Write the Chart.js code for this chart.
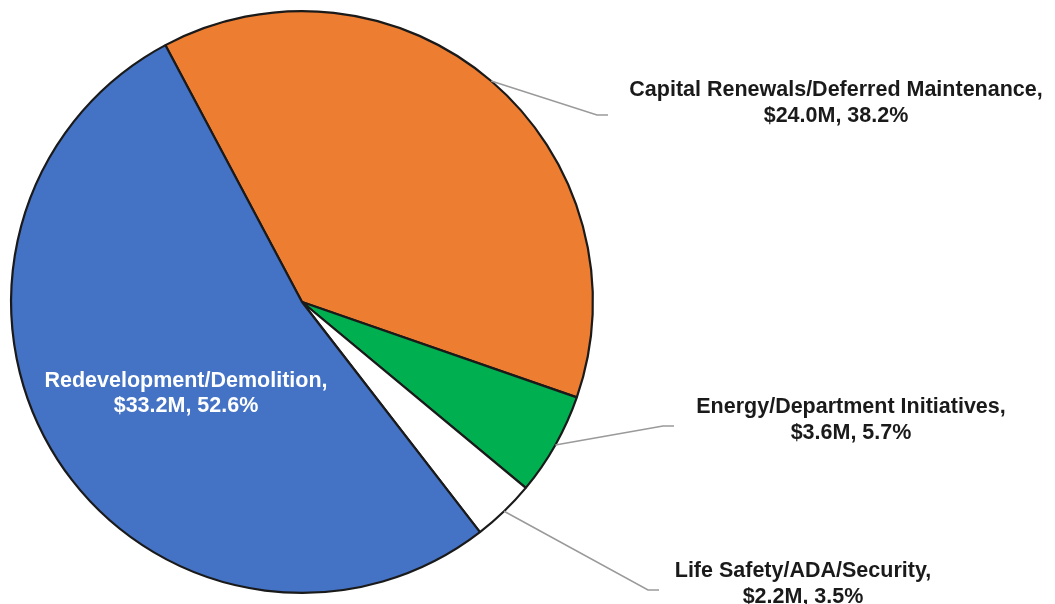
<!DOCTYPE html>
<html>
<head>
<meta charset="utf-8">
<script src="https://cdn.jsdelivr.net/npm/chart.js@4.4.0/dist/chart.umd.min.js"></script>
<style>
  html, body { margin: 0; padding: 0; background: #fff; }
  #wrap { width: 1055px; height: 604px; position: relative; }
</style>
</head>
<body>
<div id="wrap"><canvas id="budgetPie"></canvas></div>
<script>
const categories = [
    'Capital Renewals/Deferred Maintenance',
    'Energy/Department Initiatives',
    'Life Safety/ADA/Security',
    'Redevelopment/Demolition'
];
const amounts = [24.0, 3.6, 2.2, 33.2];          // $M
const percents = ['38.2%', '5.7%', '3.5%', '52.6%'];
const sliceColors = ['#ED7D31', '#00B050', '#FFFFFF', '#4472C4'];

// where each callout sits: [text x, first line y, elbow x, elbow y] (null = inside slice)
const callouts = [
    [836, 89, 597, 115],
    [851, 406, 663, 426],
    [803, 570, 648, 590],
    null
];

const calloutPlugin = {
    id: 'callouts',
    afterDatasetsDraw(chart) {
        const ctx = chart.ctx;
        const arcs = chart.getDatasetMeta(0).data;
        ctx.save();
        ctx.font = 'bold 21.5px "Liberation Sans", Arial, sans-serif';
        ctx.textAlign = 'center';
        ctx.textBaseline = 'middle';
        arcs.forEach((arc, i) => {
            const p = arc.getProps(['x', 'y', 'startAngle', 'endAngle', 'outerRadius'], true);
            const mid = (p.startAngle + p.endAngle) / 2;
            const line1 = categories[i] + ',';
            const line2 = '$' + amounts[i].toFixed(1) + 'M, ' + percents[i];
            const c = callouts[i];
            if (!c) {
                ctx.fillStyle = '#FFFFFF';
                ctx.fillText(line1, 186, 381);
                ctx.fillText(line2, 186, 406);
                return;
            }
            const sx = p.x + Math.cos(mid) * p.outerRadius;
            const sy = p.y + Math.sin(mid) * p.outerRadius;
            ctx.strokeStyle = '#9A9A9A';
            ctx.lineWidth = 1.5;
            ctx.beginPath();
            ctx.moveTo(sx, sy);
            ctx.lineTo(c[2], c[3]);
            ctx.lineTo(c[2] + 11, c[3]);
            ctx.stroke();
            ctx.fillStyle = '#1A1A1A';
            ctx.fillText(line1, c[0], c[1] + 1);
            ctx.fillText(line2, c[0], c[1] + 27);
        });
        ctx.restore();
    }
};

new Chart(document.getElementById('budgetPie'), {
    type: 'pie',
    data: {
        labels: categories,
        datasets: [{
            data: amounts,
            backgroundColor: sliceColors,
            borderColor: '#1A1A1A',
            borderWidth: 2.2
        }]
    },
    options: {
        responsive: true,
        maintainAspectRatio: false,
        animation: false,
        rotation: -28,
        layout: {
            padding: { left: 10, top: 10, bottom: 10, right: 461 }
        },
        plugins: {
            legend: { display: false },
            tooltip: { enabled: false }
        }
    },
    plugins: [calloutPlugin]
});
</script>
</body>
</html>
